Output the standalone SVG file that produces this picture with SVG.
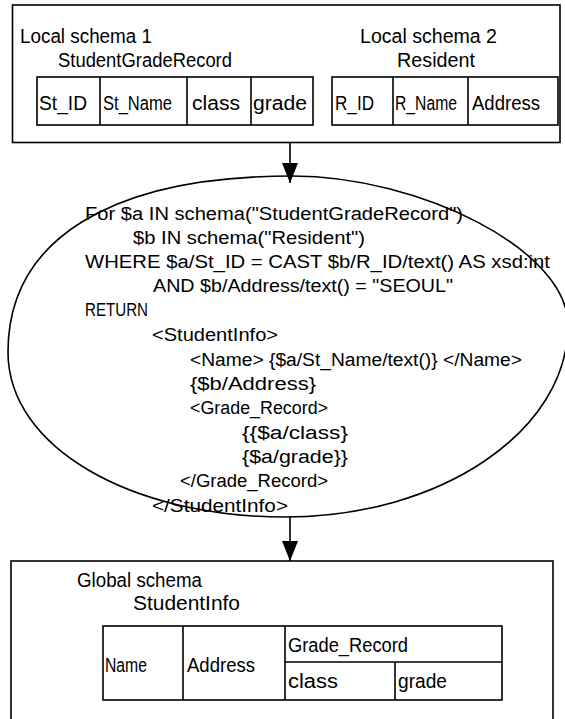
<svg xmlns="http://www.w3.org/2000/svg" width="565" height="719" viewBox="0 0 565 719">
<style>
  .box { fill: none; stroke: #000; stroke-width: 1.6; }
  .ln { stroke: #000; stroke-width: 1.6; fill: none; }
  .t { font-family: "Liberation Sans", Arial, sans-serif; font-size: 20px; fill: #000; }
  .c { font-family: "Liberation Sans", Arial, sans-serif; font-size: 18px; fill: #000; }
</style>
<defs>
  <marker id="arr" viewBox="0 0 20 16" refX="20" refY="8" markerWidth="20" markerHeight="16" markerUnits="userSpaceOnUse" orient="auto">
    <path d="M0,0 L20,8 L0,16 Z" fill="#000"/>
  </marker>
</defs>
<rect width="565" height="719" fill="#fff"/>

<g id="local-schemas">
  <rect class="box" x="12.5" y="5" width="547.5" height="137.5"/>
  <text class="t" x="20" y="43" textLength="132" lengthAdjust="spacingAndGlyphs">Local schema 1</text>
  <text class="t" x="58" y="67" textLength="174" lengthAdjust="spacingAndGlyphs">StudentGradeRecord</text>
  <g id="table1">
    <rect class="box" x="37" y="77" width="276" height="48"/>
    <line class="ln" x1="100" y1="77" x2="100" y2="125"/>
    <line class="ln" x1="187" y1="77" x2="187" y2="125"/>
    <line class="ln" x1="251" y1="77" x2="251" y2="125"/>
    <text class="t" x="39" y="110" textLength="48" lengthAdjust="spacingAndGlyphs">St_ID</text>
    <text class="t" x="103" y="110" textLength="69" lengthAdjust="spacingAndGlyphs">St_Name</text>
    <text class="t" x="192" y="110" textLength="48" lengthAdjust="spacingAndGlyphs">class</text>
    <text class="t" x="253" y="110" textLength="54" lengthAdjust="spacingAndGlyphs">grade</text>
  </g>
  <text class="t" x="360" y="43" textLength="137" lengthAdjust="spacingAndGlyphs">Local schema 2</text>
  <text class="t" x="397" y="67" textLength="78" lengthAdjust="spacingAndGlyphs">Resident</text>
  <g id="table2">
    <rect class="box" x="332" y="77" width="226" height="48"/>
    <line class="ln" x1="393" y1="77" x2="393" y2="125"/>
    <line class="ln" x1="468" y1="77" x2="468" y2="125"/>
    <text class="t" x="335" y="110" textLength="39" lengthAdjust="spacingAndGlyphs">R_ID</text>
    <text class="t" x="395" y="110" textLength="62" lengthAdjust="spacingAndGlyphs">R_Name</text>
    <text class="t" x="472" y="110" textLength="68" lengthAdjust="spacingAndGlyphs">Address</text>
  </g>
</g>

<g id="query">
  <path class="ln" d="M292,176 C420,176 568,250 568,325 C568,431 441,517 285,517 C132,517 8,448 8,352 C8,240 110,176 292,176 Z"/>
  <text class="c" x="85" y="220" textLength="378" lengthAdjust="spacingAndGlyphs">For $a IN schema("StudentGradeRecord")</text>
  <text class="c" x="133" y="244" textLength="232" lengthAdjust="spacingAndGlyphs">$b IN schema("Resident")</text>
  <text class="c" x="85" y="268" textLength="465" lengthAdjust="spacingAndGlyphs">WHERE $a/St_ID = CAST $b/R_ID/text() AS xsd:int</text>
  <text class="c" x="153" y="292" textLength="300" lengthAdjust="spacingAndGlyphs">AND $b/Address/text() = "SEOUL"</text>
  <text class="c" x="85" y="316" textLength="63" lengthAdjust="spacingAndGlyphs">RETURN</text>
  <text class="c" x="152" y="341" textLength="126" lengthAdjust="spacingAndGlyphs">&lt;StudentInfo&gt;</text>
  <text class="c" x="190" y="366" textLength="332" lengthAdjust="spacingAndGlyphs">&lt;Name&gt; {$a/St_Name/text()} &lt;/Name&gt;</text>
  <text class="c" x="190" y="390" textLength="126" lengthAdjust="spacingAndGlyphs">{$b/Address}</text>
  <text class="c" x="190" y="414" textLength="138" lengthAdjust="spacingAndGlyphs">&lt;Grade_Record&gt;</text>
  <text class="c" x="242" y="439" textLength="106" lengthAdjust="spacingAndGlyphs">{{$a/class}</text>
  <text class="c" x="242" y="463" textLength="106" lengthAdjust="spacingAndGlyphs">{$a/grade}}</text>
  <text class="c" x="180" y="487" textLength="148" lengthAdjust="spacingAndGlyphs">&lt;/Grade_Record&gt;</text>
  <text class="c" x="152" y="512" textLength="136" lengthAdjust="spacingAndGlyphs">&lt;/StudentInfo&gt;</text>
</g>

<g id="global-schema">
  <rect class="box" x="11" y="561" width="542" height="170"/>
  <text class="t" x="77" y="587" textLength="125" lengthAdjust="spacingAndGlyphs">Global schema</text>
  <text class="t" x="133" y="610" textLength="107" lengthAdjust="spacingAndGlyphs">StudentInfo</text>
  <g id="table3">
    <rect class="box" x="103" y="626" width="399" height="74"/>
    <line class="ln" x1="183" y1="626" x2="183" y2="700"/>
    <line class="ln" x1="285" y1="626" x2="285" y2="700"/>
    <line class="ln" x1="285" y1="662" x2="502" y2="662"/>
    <line class="ln" x1="395" y1="662" x2="395" y2="700"/>
    <text class="t" x="105" y="672" textLength="42" lengthAdjust="spacingAndGlyphs">Name</text>
    <text class="t" x="187" y="672" textLength="68" lengthAdjust="spacingAndGlyphs">Address</text>
    <text class="t" x="288" y="652" textLength="120" lengthAdjust="spacingAndGlyphs">Grade_Record</text>
    <text class="t" x="288" y="688" textLength="50" lengthAdjust="spacingAndGlyphs">class</text>
    <text class="t" x="398" y="688" textLength="49" lengthAdjust="spacingAndGlyphs">grade</text>
  </g>
</g>

<g id="connectors">
  <line class="ln" x1="290" y1="142.5" x2="290" y2="183" marker-end="url(#arr)"/>
  <line class="ln" x1="290" y1="517" x2="290" y2="561" marker-end="url(#arr)"/>
</g>
</svg>
